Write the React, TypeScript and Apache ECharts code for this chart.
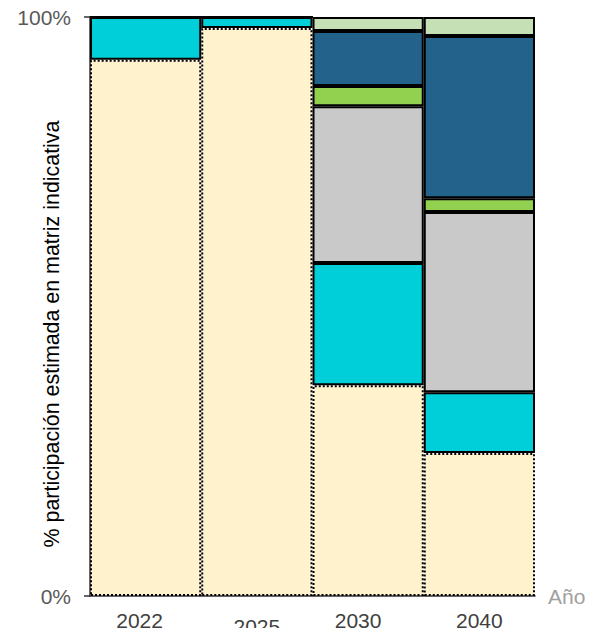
import React, { useEffect, useRef } from "react";
import * as echarts from "echarts";

const categories = ["2022", "2025", "2030", "2040"];
const seriesNames = ["S1", "S2", "S3", "S4", "S5", "S6"];
const s1 = [92.6, 98.1, 36.4, 24.7];
const s2 = [7.4, 1.9, 21.1, 10.5];
const s3 = [0, 0, 27.1, 31.1];
const s4 = [0, 0, 3.5, 2.4];
const s5 = [0, 0, 9.5, 28.0];
const s6 = [0, 0, 2.4, 3.3];
const yTicks = [0, 100];
const yTitle = "% participación estimada en matriz indicativa";

const colors = ["#FFF2CC", "#00CED9", "#C9C9C9", "#92D050", "#22628B", "#C5E0B4"];
const labelStyles = ["a", "b", "c", "n"];

export default function App() {
  const ref = useRef<HTMLDivElement>(null);
  useEffect(() => {
    const chart = echarts.init(ref.current!, undefined, { renderer: "svg" });
    const data = [s1, s2, s3, s4, s5, s6];
    const font = "Liberation Sans, Arial, sans-serif";
    chart.setOption({
      animation: false,
      textStyle: { fontFamily: font },
      grid: { left: 90, right: 54, top: 17, bottom: 32, outerBoundsMode: "none", containLabel: false },
      graphic: [
        {
          type: "text",
          x: 52,
          y: 334,
          rotation: Math.PI / 2,
          style: {
            text: yTitle,
            fill: "#000",
            font: "21.4px " + font,
            align: "center",
            verticalAlign: "middle",
          },
        },
      ],
      xAxis: {
        type: "category",
        data: categories,
        name: "Año",
        nameLocation: "end",
        nameGap: 13,
        nameMoveOverlap: false,
        nameTextStyle: { color: "#A0A0A0", fontSize: 21, verticalAlign: "middle" },
        axisLine: { lineStyle: { color: "#333", width: 1.5 } },
        axisTick: { show: false },
        axisLabel: {
          interval: 0,
          hideOverlap: false,
          color: "#404040",
          fontSize: 21,
          margin: 14,
          formatter: (v: string, i: number) => "{" + labelStyles[i] + "|" + v + "}",
          rich: {
            n: { fontSize: 21, color: "#404040" },
            a: { fontSize: 21, color: "#404040", padding: [0, 12, 0, 0] },
            b: { fontSize: 21, color: "#404040", padding: [6, 0, 0, 0] },
            c: { fontSize: 21, color: "#404040", padding: [0, 20, 0, 0] },
          },
        },
      },
      yAxis: {
        type: "value",
        min: yTicks[0],
        max: yTicks[1],
        interval: 100,
        splitLine: { show: false },
        axisLine: { show: true, lineStyle: { color: "#333", width: 1.5 } },
        axisTick: { show: true, length: 6, lineStyle: { color: "#333", width: 1.5 } },
        axisLabel: { color: "#595959", fontSize: 21, margin: 19, formatter: "{value}%" },
      },
      series: data.map((d, i) => ({
        name: seriesNames[i],
        type: "bar",
        stack: "total",
        barCategoryGap: "0%",
        data: d,
        itemStyle: {
          color: colors[i],
          borderColor: "#000",
          borderWidth: 2,
          borderType: i === 0 ? "dotted" : "solid",
        },
      })),
    });
    return () => chart.dispose();
  }, []);
  return (
    <div
      ref={ref}
      style={{ position: "absolute", left: 0, top: 0, width: 589, height: 628 }}
    />
  );
}
